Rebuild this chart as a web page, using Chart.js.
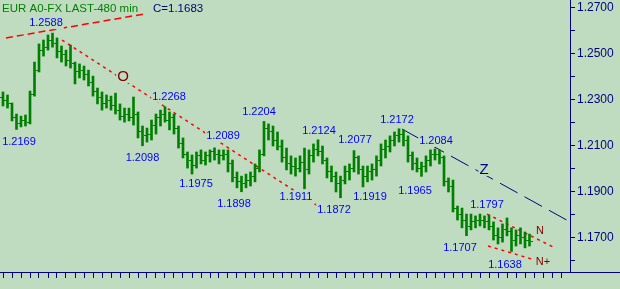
<!DOCTYPE html>
<html>
<head>
<meta charset="utf-8">
<script src="https://cdn.jsdelivr.net/npm/chart.js@4.4.1/dist/chart.umd.min.js"></script>
<style>
  html, body { margin: 0; padding: 0; background: #c0dcc0; }
  #wrap { width: 620px; height: 289px; }
</style>
</head>
<body>
<div id="wrap"><canvas id="chart" width="620" height="289"></canvas></div>
<script>
// EUR A0-FX, 480 min bars, two bars drawn per day slot
const title = 'EUR A0-FX LAST-480 min';
const xTickCount = 63;
const barsPerDay = 2;

const highs = [
    1.2332, 1.2319, 1.2284, 1.2236, 1.2227, 1.2232, 1.2336, 1.2462, 1.2541, 1.2558,
    1.2580, 1.2588, 1.2567, 1.2532, 1.2514, 1.2536, 1.2462, 1.2454, 1.2445, 1.2427,
    1.2401, 1.2349, 1.2332, 1.2319, 1.2314, 1.2327, 1.2280, 1.2262, 1.2262, 1.2310,
    1.2245, 1.2184, 1.2175, 1.2210, 1.2236, 1.2253, 1.2268, 1.2245, 1.2236, 1.2184,
    1.2132, 1.2071, 1.2058, 1.2071, 1.2080, 1.2071, 1.2080, 1.2089, 1.2080, 1.2080,
    1.2080, 1.2036, 1.1984, 1.1966, 1.1975, 1.1984, 1.2019, 1.2080, 1.2204, 1.2193,
    1.2184, 1.2158, 1.2123, 1.2088, 1.2054, 1.2045, 1.2054, 1.2088, 1.2080, 1.2106,
    1.2124, 1.2097, 1.2045, 1.2010, 1.1984, 1.1966, 1.2010, 1.2019, 1.2077, 1.2054,
    1.2010, 1.2010, 1.2019, 1.2054, 1.2106, 1.2123, 1.2141, 1.2158, 1.2172, 1.2167,
    1.2141, 1.2071, 1.2045, 1.2027, 1.2054, 1.2080, 1.2084, 1.2080, 1.2054, 1.1958,
    1.1949, 1.1836, 1.1827, 1.1801, 1.1801, 1.1793, 1.1801, 1.1793, 1.1797, 1.1767,
    1.1741, 1.1758, 1.1784, 1.1741, 1.1732, 1.1741, 1.1723, 1.1714
];
const lows = [
    1.2271, 1.2262, 1.2206, 1.2169, 1.2180, 1.2184, 1.2193, 1.2314, 1.2419, 1.2488,
    1.2514, 1.2527, 1.2480, 1.2462, 1.2445, 1.2436, 1.2367, 1.2393, 1.2384, 1.2358,
    1.2314, 1.2280, 1.2253, 1.2262, 1.2253, 1.2236, 1.2210, 1.2201, 1.2206, 1.2188,
    1.2132, 1.2098, 1.2114, 1.2123, 1.2149, 1.2184, 1.2201, 1.2167, 1.2149, 1.2088,
    1.2045, 1.2001, 1.1975, 1.2001, 1.2019, 1.2014, 1.2027, 1.2036, 1.2019, 1.2036,
    1.1984, 1.1941, 1.1915, 1.1898, 1.1915, 1.1923, 1.1941, 1.1984, 1.2054, 1.2123,
    1.2097, 1.2080, 1.2027, 1.1993, 1.1975, 1.1966, 1.1984, 1.1911, 1.1975, 1.2027,
    1.2054, 1.2019, 1.1958, 1.1941, 1.1897, 1.1872, 1.1932, 1.1949, 1.1984, 1.1975,
    1.1919, 1.1941, 1.1949, 1.1966, 1.2010, 1.2045, 1.2071, 1.2097, 1.2114, 1.2097,
    1.2027, 1.1993, 1.1984, 1.1965, 1.1984, 1.2010, 1.2036, 1.2019, 1.1923, 1.1897,
    1.1810, 1.1775, 1.1741, 1.1707, 1.1732, 1.1741, 1.1749, 1.1741, 1.1732, 1.1688,
    1.1671, 1.1679, 1.1706, 1.1638, 1.1662, 1.1671, 1.1654, 1.1662
];
const opens = [
    1.2310, 1.2297, 1.2280, 1.2219, 1.2193, 1.2210, 1.2201, 1.2319, 1.2427, 1.2514,
    1.2527, 1.2558, 1.2541, 1.2506, 1.2493, 1.2471, 1.2454, 1.2419, 1.2427, 1.2410,
    1.2375, 1.2332, 1.2306, 1.2280, 1.2297, 1.2271, 1.2253, 1.2227, 1.2236, 1.2219,
    1.2236, 1.2158, 1.2141, 1.2149, 1.2184, 1.2219, 1.2236, 1.2210, 1.2219, 1.2175,
    1.2106, 1.2062, 1.2036, 1.2014, 1.2054, 1.2036, 1.2054, 1.2071, 1.2062, 1.2054,
    1.2058, 1.2019, 1.1958, 1.1941, 1.1932, 1.1949, 1.1966, 1.2001, 1.2062, 1.2175,
    1.2158, 1.2123, 1.2097, 1.2045, 1.2019, 1.2010, 1.2001, 1.2027, 1.1993, 1.2054,
    1.2080, 1.2071, 1.2036, 1.1984, 1.1966, 1.1932, 1.1949, 1.1984, 1.2001, 1.2045,
    1.1993, 1.1966, 1.1984, 1.1993, 1.2036, 1.2080, 1.2097, 1.2123, 1.2141, 1.2149,
    1.2123, 1.2054, 1.2019, 1.2001, 1.2010, 1.2036, 1.2062, 1.2062, 1.2045, 1.1941,
    1.1923, 1.1827, 1.1801, 1.1775, 1.1749, 1.1767, 1.1775, 1.1775, 1.1767, 1.1749,
    1.1706, 1.1697, 1.1732, 1.1723, 1.1688, 1.1706, 1.1697, 1.1688
];
const closes = [
    1.2297, 1.2280, 1.2219, 1.2193, 1.2210, 1.2201, 1.2319, 1.2427, 1.2514, 1.2527,
    1.2558, 1.2541, 1.2506, 1.2493, 1.2471, 1.2454, 1.2419, 1.2427, 1.2410, 1.2375,
    1.2332, 1.2306, 1.2280, 1.2297, 1.2271, 1.2253, 1.2227, 1.2236, 1.2219, 1.2236,
    1.2158, 1.2141, 1.2149, 1.2184, 1.2219, 1.2236, 1.2210, 1.2219, 1.2175, 1.2106,
    1.2062, 1.2036, 1.2014, 1.2054, 1.2036, 1.2054, 1.2071, 1.2062, 1.2054, 1.2058,
    1.2019, 1.1958, 1.1941, 1.1932, 1.1949, 1.1966, 1.2001, 1.2062, 1.2175, 1.2158,
    1.2123, 1.2097, 1.2045, 1.2019, 1.2010, 1.2001, 1.2027, 1.1993, 1.2054, 1.2080,
    1.2071, 1.2036, 1.1984, 1.1966, 1.1932, 1.1949, 1.1984, 1.2001, 1.2045, 1.1993,
    1.1966, 1.1984, 1.1993, 1.2036, 1.2080, 1.2097, 1.2123, 1.2141, 1.2149, 1.2123,
    1.2054, 1.2019, 1.2001, 1.2010, 1.2036, 1.2062, 1.2062, 1.2045, 1.1941, 1.1923,
    1.1827, 1.1801, 1.1775, 1.1749, 1.1767, 1.1775, 1.1775, 1.1767, 1.1749, 1.1706,
    1.1697, 1.1732, 1.1723, 1.1688, 1.1706, 1.1697, 1.1688, 1.1683
];

// swing highs / lows that carry a price tag
const peakBars = [11, 36, 47, 58, 70, 78, 88, 96, 108];
const troughBars = [3, 31, 42, 53, 67, 75, 80, 93, 103, 113];

// hand drawn lines, [day, price]
const topLine = [[0.33, 1.2567], [15.67, 1.2671]];
const oLine = [[6.56, 1.2558], [35.0, 1.1836]];
const zLine = [[44.33, 1.2171], [63.0, 1.1767]];
const nLine = [[53.78, 1.1801], [61.11, 1.1658]];
const nPlusLine = [[53.89, 1.1662], [59.11, 1.1601]];

// wave marks
const markText = ['O', 'Z', 'N', 'N+'];
const markDays = [13.33, 53.44, 59.67, 60.0];
const markPrices = [1.2397, 1.1993, 1.1727, 1.1593];

const BG = '#c0dcc0';
const GREEN = '#008000';
const NAVY = '#000080';
const BLUE = '#0000ff';
const RED = '#ff0000';
const DARKRED = '#800000';
const FONT = '"Liberation Sans", Arial, sans-serif';

const barX = highs.map((_, i) => i / barsPerDay);

// small open / close ticks used as point images
function tickImage(side) {
    const c = document.createElement('canvas');
    c.width = 6;
    c.height = 1;
    const g = c.getContext('2d');
    g.fillStyle = GREEN;
    g.fillRect(side === 'left' ? 0 : 4, 0, 2, 1);
    return c;
}

function toPoints(pairs) {
    return pairs.map(p => ({ x: p[0], y: p[1] }));
}

function trend(data, color, dash, width) {
    return {
        type: 'line',
        data: toPoints(data),
        borderColor: color,
        borderWidth: width,
        borderDash: dash,
        pointRadius: 0,
        fill: false,
        tension: 0
    };
}

function tag(ctx, text, cx, cy, color) {
    const w = ctx.measureText(text).width;
    ctx.fillStyle = BG;
    ctx.fillRect(cx - w / 2 - 1, cy - 6, w + 2, 12);
    ctx.fillStyle = color;
    ctx.fillText(text, cx, cy);
}

const swingLabels = {
    id: 'swingLabels',
    beforeDatasetsDraw(chart) {
        chart.ctx.imageSmoothingEnabled = false;
    },
    afterDatasetsDraw(chart, args, opts) {
        const { ctx, scales: { x, y } } = chart;
        ctx.save();
        ctx.textAlign = 'center';
        ctx.textBaseline = 'middle';
        ctx.font = '11px ' + FONT;
        peakBars.forEach((b, k) => {
            tag(ctx, highs[b].toFixed(4),
                x.getPixelForValue(barX[b]) + opts.peakDx[k],
                y.getPixelForValue(highs[b]) + opts.peakDy[k], BLUE);
        });
        troughBars.forEach((b, k) => {
            tag(ctx, lows[b].toFixed(4),
                x.getPixelForValue(barX[b]) + opts.troughDx[k],
                y.getPixelForValue(lows[b]) + opts.troughDy[k], BLUE);
        });
        markText.forEach((t, k) => {
            ctx.font = opts.markSize[k] + 'px ' + FONT;
            tag(ctx, t, x.getPixelForValue(markDays[k]), y.getPixelForValue(markPrices[k]), opts.markColor[k]);
        });
        ctx.restore();
    },
    afterDraw(chart) {
        const { ctx, scales: { x } } = chart;
        ctx.save();
        // bottom axis runs on under the price scale
        ctx.strokeStyle = NAVY;
        ctx.lineWidth = 1;
        const yy = Math.round(x.top) + 0.5;
        ctx.beginPath();
        ctx.moveTo(x.right, yy);
        ctx.lineTo(chart.width, yy);
        ctx.stroke();
        // header
        ctx.font = '11.5px ' + FONT;
        ctx.textBaseline = 'alphabetic';
        ctx.fillStyle = GREEN;
        ctx.fillText(title, 2, 12);
        ctx.fillStyle = NAVY;
        ctx.fillText('C=' + closes[closes.length - 1].toFixed(4), 153, 12);
        ctx.restore();
    }
};

Chart.defaults.font.family = FONT;

new Chart(document.getElementById('chart'), {
    type: 'bar',
    data: {
        datasets: [
            {
                type: 'bar',
                data: barX.map((d, i) => ({ x: d, y: [lows[i], highs[i]] })),
                backgroundColor: GREEN,
                borderWidth: 0,
                barThickness: 2,
                grouped: false
            },
            {
                type: 'scatter',
                data: barX.map((d, i) => ({ x: d, y: opens[i] })),
                pointStyle: tickImage('left'),
                showLine: false
            },
            {
                type: 'scatter',
                data: barX.map((d, i) => ({ x: d, y: closes[i] })),
                pointStyle: tickImage('right'),
                showLine: false
            },
            trend(topLine, RED, [7, 4], 1.5),
            trend(oLine, RED, [3, 4], 1.5),
            trend(zLine, NAVY, [20, 8], 1),
            trend(nLine, RED, [3, 4], 1.5),
            trend(nPlusLine, RED, [3, 4], 1.5)
        ]
    },
    options: {
        responsive: false,
        animation: false,
        events: [],
        devicePixelRatio: 1,
        layout: { padding: 0, autoPadding: false },
        scales: {
            x: {
                type: 'linear',
                offset: false,
                min: -1 / 3,
                max: xTickCount,
                ticks: { display: false, stepSize: 1, includeBounds: false },
                grid: { drawOnChartArea: false, tickLength: 6, color: NAVY, offset: false },
                border: { color: NAVY },
                afterBuildTicks: s => {
                    s.ticks = s.ticks.filter(t => t.value >= 0 && t.value < xTickCount);
                },
                afterFit: s => { s.height = 17; }
            },
            y: {
                position: 'right',
                min: 1.1549,
                max: 1.2732,
                ticks: {
                    stepSize: 0.01,
                    includeBounds: false,
                    padding: 2,
                    color: NAVY,
                    font: { size: 12 },
                    callback: v => Math.round(v * 100) % 2 === 1 ? v.toFixed(4) : ''
                },
                grid: { drawOnChartArea: false, tickLength: 5, color: NAVY },
                border: { color: NAVY },
                afterFit: s => {
                    s.width = 50;
                    s.paddingTop = 0;
                    s.paddingBottom = 0;
                }
            }
        },
        plugins: {
            legend: { display: false },
            tooltip: { enabled: false },
            swingLabels: {
                peakDx: [-6.5, 4, 8.5, -5, 1, 1, -2, 1, -2],
                peakDy: [-10, -10, -12, -9, -9, -11, -9, -8, -10],
                troughDx: [2.5, 0, 4, -7.5, -8.5, -6.5, 7, -6.5, -6.5, -6.5],
                troughDy: [13, 12, 10, 12, 8, 12, 10, 15, 12, 13],
                markSize: [15, 15, 11, 11],
                markColor: [DARKRED, NAVY, DARKRED, DARKRED]
            }
        }
    },
    plugins: [swingLabels]
});
</script>
</body>
</html>
